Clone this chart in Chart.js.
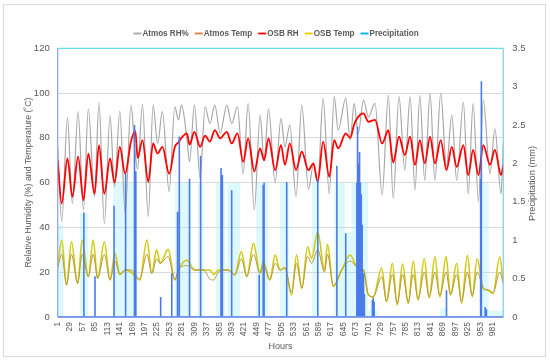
<!DOCTYPE html>
<html>
<head>
<meta charset="utf-8">
<script src="https://cdn.jsdelivr.net/npm/chart.js@4.4.1/dist/chart.umd.min.js"></script>
<style>
  body { margin: 0; background: #fff; }
  canvas { display: block; }
</style>
</head>
<body>
<canvas id="chart" width="550" height="362"></canvas>
<script>
// x axis labels (hours)
var hourTicks = [1, 29, 57, 85, 113, 141, 169, 197, 225, 253, 281, 309, 337, 365, 393, 421, 449, 477,
  505, 533, 561, 589, 617, 645, 673, 701, 729, 757, 785, 813, 841, 869, 897, 925, 953, 981];

// relative humidity, read at the daily highs / lows
var rhHours = [1, 10, 23, 34, 47, 59, 70, 84, 94, 106, 119, 129, 141, 153, 166, 176, 181, 192, 205, 216,
  226, 237, 252, 265, 273, 280, 292, 298, 309, 322, 333, 344, 355, 367, 382, 393, 406, 419, 430, 444,
  457, 466, 476, 491, 504, 513, 524, 538, 551, 566, 577, 587, 599, 613, 624, 633, 650, 660, 669, 678,
  690, 701, 716, 732, 746, 757, 770, 783, 795, 806, 817, 828, 840, 851, 864, 877, 889, 900, 915, 926,
  937, 949, 960, 975, 986, 1000, 1005];
var atmosRh = [76, 42.6, 89, 50.7, 91.7, 47.8, 93, 53.7, 95.7, 41.8, 90, 58, 92, 46, 94.6, 72, 66, 95, 44.8, 94.6,
  77.5, 91.7, 56, 93.9, 88, 94.6, 80, 69.3, 94.6, 62, 93.9, 86.5, 94.6, 82, 94.6, 86.5, 93.9, 64, 95.4, 47.8,
  90.2, 70, 93, 60, 88.7, 76, 85.7, 53.7, 94.6, 57, 68, 60, 97.6, 55, 98.4, 83.5, 97.6, 79, 95.4, 82,
  96.9, 89.4, 95.4, 54.5, 99, 53, 98.4, 65.6, 98.4, 56.7, 99, 61, 99.9, 61, 99.9, 67, 90.2, 61, 96, 55,
  95.4, 51.5, 96.9, 64, 84, 55, 77.5];
var osbRh = [70, 50.7, 70.8, 53.7, 71.6, 52.2, 73, 55, 76.8, 55, 70.8, 60, 76, 64, 78.3, 83, 71, 79, 60.4, 77.5,
  73, 76, 64, 76, 78, 80, 82, 77, 82.7, 76, 81, 78.3, 83.5, 79.8, 82.7, 77.5, 82, 69.3, 79.8, 65,
  75.3, 70, 79.8, 65.6, 76.8, 67.9, 77.5, 65.6, 73.8, 65.6, 68.6, 60.4, 78.3, 62.6, 79, 75.3, 82, 80, 86, 89.4,
  90.9, 87.2, 88, 77.5, 83.5, 69, 80.5, 72.3, 80.5, 67.9, 79, 68.6, 80.5, 68.6, 79, 65.6, 76, 67, 76.8, 63.4,
  74.6, 63.4, 76.8, 68, 74.6, 63.4, 67.9];

// temperature (deg C), read at the daily highs / lows
var tempHours = [1, 10, 21, 32, 46, 56, 70, 81, 91, 106, 119, 130, 141, 153, 166, 186, 202, 213, 224, 232,
  250, 265, 273, 292, 310, 329, 344, 352, 363, 385, 400, 415, 427, 442, 457, 464, 479, 491, 502, 513,
  528, 539, 551, 564, 573, 587, 602, 609, 622, 641, 660, 675, 690, 701, 712, 731, 742, 755, 766, 778,
  791, 802, 813, 827, 838, 851, 862, 876, 886, 900, 911, 924, 935, 946, 960, 971, 982, 997, 1005];
var osbTemp = [22, 34.4, 14.3, 33.6, 15, 34.4, 18, 34.4, 17.3, 33.6, 16.5, 28.4, 19, 21, 20, 16.5, 34.4, 19.5, 30, 24,
  30.2, 16.5, 21, 25.4, 21, 21, 21, 19, 21, 21, 18.8, 29.2, 18, 32.9, 19.5, 25, 16.5, 27.7, 21, 22,
  9.8, 27.7, 12.8, 31.4, 26.2, 38, 21, 32.5, 13.5, 21, 27.7, 22.5, 21, 9.8, 9, 21.9, 6.8, 24, 5.4, 23.6,
  6, 25, 7.5, 26, 8.5, 26.9, 9, 26.9, 9.9, 24, 6.1, 27.4, 9, 26, 12.7, 12, 10.4, 26.9, 15];
var atmosTemp = [22, 28, 14.3, 28, 15, 28, 18, 28, 17.3, 28, 16.5, 25, 19, 21, 21, 17, 28, 19.5, 26, 24,
  27, 16.5, 21, 23, 21, 21, 17, 16.5, 20, 21, 18.8, 26, 18, 28, 19.5, 23, 16.5, 24, 21, 22,
  11, 24, 13, 27, 24, 30, 20, 28, 14, 21, 25, 22.5, 21, 10, 9, 18, 7, 19, 6, 19,
  6.5, 19, 8, 20, 9, 20, 9.5, 20, 10, 19, 7, 20, 9.5, 20, 13, 12, 11, 20, 15];

// precipitation events (mm)
var rainHours = [60, 85, 128, 154, 174, 177, 233, 258, 271, 275, 298, 323, 369, 372, 393, 455, 464, 466, 517, 587,
  630, 650, 675, 676, 677, 678, 679, 680, 681, 682, 683, 685, 687, 690, 692, 710, 712, 714, 877, 954,
  955, 956, 964, 967];
var rainMm = [1.36, 0.53, 1.45, 1.87, 2.5, 1.9, 0.26, 0.57, 1.37, 2.35, 1.8, 2.1, 1.94, 1.85, 1.65, 0.55, 1.72, 1.75, 1.76, 1.8,
  1.97, 1.09, 1.75, 1.9, 2.48, 2.0, 1.75, 1.9, 2.15, 1.8, 1.75, 1.6, 1.2, 0.57, 0.3, 0.22, 0.25, 0.2, 0.35, 1.8,
  3.07, 1.8, 0.13, 0.1];

// light shaded rainy periods (mm)
var bandStart = [1, 51, 126, 265, 317, 358, 383, 448, 502, 574, 624, 648, 663, 700, 862, 952, 972];
var bandEnd = [14, 70, 180, 302, 330, 378, 412, 475, 522, 590, 648, 663, 700, 722, 880, 972, 1005];
var bandTop = [1.2, 1.35, 1.75, 1.75, 1.75, 1.75, 1.75, 1.75, 1.75, 1.75, 1.75, 1.1, 1.75, 0.1, 0.12, 1.75, 0.08];

function pts(xs, ys) {
  return xs.map(function (h, i) { return { x: h, y: ys[i] }; });
}

var rainPts = [{ x: 1, y: 0 }];
rainHours.forEach(function (h, i) {
  rainPts.push({ x: h, y: 0 }, { x: h, y: rainMm[i] }, { x: h, y: 0 });
});
rainPts.push({ x: 1005, y: 0 });

var bandPts = [];
bandStart.forEach(function (s, i) {
  bandPts.push({ x: s, y: 0 }, { x: s, y: bandTop[i] }, { x: bandEnd[i], y: bandTop[i] }, { x: bandEnd[i], y: 0 });
});

Chart.defaults.font.family = "'Liberation Sans', Arial, sans-serif";
Chart.defaults.color = '#595959';

var FONT = "'Liberation Sans', Arial, sans-serif";

var framePlugin = {
  id: 'frame',
  afterDraw: function (chart) {
    var ctx = chart.ctx, a = chart.chartArea;
    ctx.save();
    // plot border
    ctx.lineWidth = 1.3;
    ctx.strokeStyle = '#63E0EC';
    ctx.beginPath(); ctx.moveTo(a.left, a.top); ctx.lineTo(a.right, a.top); ctx.stroke();
    ctx.strokeStyle = '#8CCFF4';
    ctx.beginPath(); ctx.moveTo(a.right, a.top); ctx.lineTo(a.right, a.bottom); ctx.stroke();
    ctx.strokeStyle = '#8FA6F2';
    ctx.beginPath(); ctx.moveTo(a.left, a.top); ctx.lineTo(a.left, a.bottom); ctx.stroke();
    ctx.strokeStyle = '#6F93EE';
    ctx.beginPath(); ctx.moveTo(a.left, a.bottom); ctx.lineTo(a.right, a.bottom); ctx.stroke();

    // axis titles
    ctx.fillStyle = '#595959';
    ctx.textAlign = 'center';
    ctx.textBaseline = 'middle';
    ctx.font = '9.5px ' + FONT;
    ctx.fillText('Hours', 280.5, 346, 24);

    ctx.save();
    ctx.translate(28.3, 182.5);
    ctx.rotate(-Math.PI / 2);
    ctx.fillText('Relative Humidity (%) and Temperature (\u02DAC)', 0, 0, 170);
    ctx.restore();

    ctx.save();
    ctx.translate(532, 183.5);
    ctx.rotate(-Math.PI / 2);
    ctx.fillText('Precipitation (mm)', 0, 0, 75);
    ctx.restore();

    // legend
    var items = chart.data.datasets.filter(function (d) { return d.legendColor; })
      .sort(function (p, q) { return p.legendIndex - q.legendIndex; });
    ctx.font = 'bold 9px ' + FONT;
    ctx.textAlign = 'left';
    var widths = items.map(function (d) { return ctx.measureText(d.label).width * 0.9; });
    var total = 0;
    widths.forEach(function (w) { total += 9 + w + 6; });
    total -= 6;
    var x = 276 - total / 2, y = 33.5;
    items.forEach(function (d, i) {
      ctx.strokeStyle = d.legendColor;
      ctx.lineWidth = 1.8;
      ctx.beginPath(); ctx.moveTo(x, y); ctx.lineTo(x + 8, y); ctx.stroke();
      ctx.fillStyle = '#595959';
      ctx.fillText(d.label, x + 9, y + 0.5, widths[i]);
      x += 9 + widths[i] + 6;
    });

    // outer frame
    ctx.strokeStyle = '#D9D9D9';
    ctx.lineWidth = 1;
    ctx.strokeRect(3.5, 4.5, 542, 352);
    ctx.restore();
  }
};

new Chart(document.getElementById('chart'), {
  type: 'line',
  data: {
    datasets: [
      {
        label: 'Precipitation', legendColor: '#00B0F0', legendIndex: 4,
        data: rainPts, yAxisID: 'yP', borderColor: '#4A7BE8', borderWidth: 1.6,
        pointRadius: 0, tension: 0, order: 0
      },
      {
        label: 'OSB RH', legendColor: '#FF0000', legendIndex: 2,
        data: pts(rhHours, osbRh), yAxisID: 'y', borderColor: '#FF0000', borderWidth: 1.8,
        pointRadius: 0, cubicInterpolationMode: 'monotone', order: 1
      },
      {
        label: 'Atmos RH%', legendColor: '#A5A5A5', legendIndex: 0,
        data: pts(rhHours, atmosRh), yAxisID: 'y', borderColor: '#A8A8A8', borderWidth: 1.2,
        pointRadius: 0, cubicInterpolationMode: 'monotone', order: 2
      },
      {
        label: 'Atmos Temp', legendColor: '#ED7D31', legendIndex: 1,
        data: pts(tempHours, atmosTemp), yAxisID: 'y', borderColor: '#B59A3C', borderWidth: 1,
        pointRadius: 0, cubicInterpolationMode: 'monotone', order: 3
      },
      {
        label: 'OSB Temp', legendColor: '#FFC000', legendIndex: 3,
        data: pts(tempHours, osbTemp), yAxisID: 'y', borderColor: '#D3CA14', borderWidth: 1.6,
        pointRadius: 0, cubicInterpolationMode: 'monotone', order: 4
      },
      {
        label: 'rain periods',
        data: bandPts, yAxisID: 'yP', borderWidth: 0, borderColor: 'rgba(0,0,0,0)',
        backgroundColor: 'rgba(150, 236, 248, 0.32)', fill: 'origin',
        pointRadius: 0, tension: 0, order: 10
      }
    ]
  },
  options: {
    responsive: false,
    animation: false,
    devicePixelRatio: 1,
    layout: { padding: { top: 48.3, left: 0, right: 0, bottom: 0 } },
    plugins: { legend: { display: false }, tooltip: { enabled: false } },
    scales: {
      x: {
        type: 'linear', min: 1, max: 1005,
        afterBuildTicks: function (axis) {
          axis.ticks = hourTicks.map(function (v) { return { value: v }; });
        },
        afterFit: function (scale) { scale.height = 45; },
        grid: { display: false, drawTicks: false },
        border: { display: false },
        ticks: {
          autoSkip: false, minRotation: 90, maxRotation: 90, padding: 5,
          font: { size: 8.5 },
          callback: function (v) { return String(v); }
        }
      },
      y: {
        position: 'left', min: 0, max: 120,
        afterFit: function (scale) { scale.width = 57.7; },
        ticks: { stepSize: 20, padding: 8, font: { size: 9.5 } },
        grid: { color: '#D9D9D9', drawTicks: false },
        border: { display: false }
      },
      yP: {
        position: 'right', min: 0, max: 3.5,
        afterFit: function (scale) { scale.width = 46.7; },
        ticks: { stepSize: 0.5, padding: 9, font: { size: 9.5 }, callback: function (v) { return String(v); } },
        grid: { display: false, drawTicks: false },
        border: { display: false }
      }
    }
  },
  plugins: [framePlugin]
});
</script>
</body>
</html>
